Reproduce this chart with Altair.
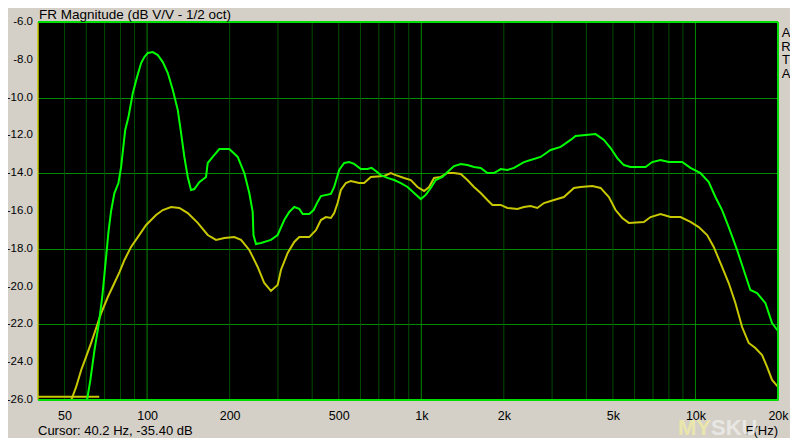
import altair as alt
import pandas as pd

# ---- data ----
green_f = [60.4, 62.1, 64.3, 66.7, 68.6, 70.3, 72.3, 73.9, 76.0, 78.6, 80.4, 83.2, 85.5, 88.7, 91.9, 95.1, 97.7,
           100.6, 104.9, 109.4, 114.1, 119, 124.1, 129.4, 133.0, 136.7, 140.7, 144.6, 148.7, 155.0, 164.0, 166.4,
           173.5, 183.4, 199.5, 214, 226.2, 235.9, 242.7, 244.3, 249.5, 260.2, 282.9, 299.3, 316.4, 330, 344.1,
           358.9, 369.3, 390.3, 404.9, 418.7, 430.5, 468.1, 481.2, 501.8, 523.4, 545.8, 569.1, 602, 636.8, 658.6,
           682.7, 711.9, 752.9, 796, 842.1, 891, 941.5, 995.9, 1038.5, 1083, 1129, 1195, 1246, 1317, 1393, 1473,
           1557, 1647, 1742, 1842, 1948, 2061, 2178, 2368, 2504, 2724, 2963, 3223, 3504, 3654, 3975, 4323, 4636,
           4903, 5185, 5481, 5797, 6574, 6954, 7456, 7994, 8945, 9590, 10428, 11178, 11824, 12506, 13221, 14184,
           14998, 15858, 16773, 17989, 19024, 20000]
green_db = [-26.0, -24.94, -23.35, -21.93, -20.55, -18.96, -17.11, -16.0, -15.05, -14.52, -13.67, -11.71, -11.03,
            -9.76, -8.91, -8.17, -7.85, -7.64, -7.59, -7.75, -8.12, -8.70, -9.60, -10.66, -11.87, -13.14, -14.20,
            -14.89, -14.84, -14.47, -14.20, -13.46, -13.14, -12.72, -12.72, -13.14, -13.99, -15.05, -16.05, -17.27,
            -17.75, -17.69, -17.53, -17.27, -16.48, -16.05, -15.79, -15.89, -16.16, -16.16, -15.95, -15.52, -15.21,
            -15.10, -14.73, -13.83, -13.46, -13.41, -13.51, -13.78, -13.78, -13.72, -13.88, -14.10, -14.25, -14.36,
            -14.52, -14.73, -15.05, -15.37, -15.15, -14.78, -14.36, -14.20, -13.94, -13.62, -13.51, -13.57, -13.67,
            -13.72, -13.99, -13.99, -13.78, -13.83, -13.72, -13.41, -13.30, -13.14, -12.77, -12.61, -12.24, -12.03,
            -11.98, -11.93, -12.24, -12.67, -13.20, -13.57, -13.67, -13.67, -13.41, -13.30, -13.41, -13.41, -13.72,
            -13.99, -14.47, -15.26, -15.95, -16.85, -18.06, -19.12, -20.18, -20.34, -20.87, -21.93, -22.35]

yellow_f = [52.9, 55.1, 57.5, 59.9, 62.5, 65.2, 68.0, 71.9, 76.0, 79.3, 82.7, 87.4, 92.5, 99.2, 107.8, 114.1, 122.3,
            131.1, 140.7, 153.0, 166.4, 178.4, 191.2, 208, 220, 235.9, 253.1, 267.5, 282.9, 299.3, 307.7, 325.6,
            344.1, 358.9, 390.3, 412.8, 430.5, 448.9, 468.1, 481.2, 495.2, 509.1, 530.8, 553.6, 593.6, 618.9, 654.6,
            731.9, 774.3, 807.4, 865.7, 915.6, 968.5, 1023.8, 1067.6, 1113.4, 1177.6, 1245.6, 1317, 1393, 1473, 1557,
            1647, 1742, 1817, 1948, 2061, 2241, 2368, 2504, 2650, 2802, 3046, 3313, 3603, 3811, 4205, 4508, 4833,
            5112, 5407, 5715, 6482, 6857, 7456, 8110, 8820, 9590, 10280, 11030, 11660, 12330, 13221, 13983, 14793,
            15638, 16539, 17498, 18248, 19024, 20000]
yellow_db = [-26.0, -25.31, -24.41, -23.72, -22.98, -22.19, -21.40, -20.55, -19.81, -19.23, -18.59, -17.90, -17.38,
             -16.74, -16.21, -15.95, -15.79, -15.84, -16.11, -16.63, -17.27, -17.53, -17.43, -17.38, -17.53, -18.06,
             -18.96, -19.81, -20.23, -19.92, -19.12, -18.22, -17.64, -17.38, -17.38, -17.01, -16.48, -16.32, -16.37,
             -16.11, -15.58, -14.89, -14.52, -14.41, -14.52, -14.52, -14.20, -14.15, -13.99, -14.10, -14.25, -14.36,
             -14.73, -14.94, -14.73, -14.25, -14.20, -13.99, -13.99, -14.04, -14.36, -14.73, -15.05, -15.42, -15.68,
             -15.68, -15.84, -15.89, -15.79, -15.74, -15.84, -15.58, -15.42, -15.26, -14.78, -14.73, -14.68, -14.78,
             -15.26, -15.95, -16.37, -16.63, -16.58, -16.32, -16.16, -16.32, -16.32, -16.58, -16.85, -17.27, -17.90,
             -18.75, -19.81, -20.87, -22.14, -22.98, -23.25, -23.62, -24.25, -24.94, -25.31]

# yellow floor segment at the bottom left
floor_f = [40, 66.9]
floor_db = [-25.83, -25.83]

x_ticks = [50, 100, 200, 500, 1000, 2000, 5000, 10000, 20000]
y_ticks = [-26, -24, -22, -20, -18, -16, -14, -12, -10, -8, -6]
minor_grid = [50, 60, 70, 80, 90, 200, 300, 400, 500, 600, 700, 800, 900,
              2000, 3000, 4000, 5000, 6000, 7000, 8000, 9000]
major_grid = [100, 1000, 10000]
f_min, f_max = 40, 20000
db_min, db_max = -26, -6

BG = "#d4d0c8"
GREEN = "#00ff00"
YELLOW = "#c8c800"
FONT = "Liberation Sans"

df = pd.concat([
    pd.DataFrame({"f": yellow_f, "db": yellow_db, "s": "Y"}),
    pd.DataFrame({"f": floor_f, "db": floor_db, "s": "Y0"}),
    pd.DataFrame({"f": green_f, "db": green_db, "s": "G"}),
], ignore_index=True)
df["o"] = range(len(df))

xs = alt.Scale(type="log", domain=[f_min, f_max], nice=False)
ys = alt.Scale(domain=[db_min, db_max], nice=False, zero=False)

x_axis = alt.Axis(values=x_ticks, grid=False, ticks=False, domain=False, title=None,
                  labelExpr="datum.value >= 1000 ? (datum.value/1000) + 'k' : datum.value + ''",
                  labelFont=FONT, labelFontSize=12.5, labelColor="#000000", labelPadding=9,
                  labelOverlap=False, labelBound=False, labelFlush=False)
y_axis = alt.Axis(values=y_ticks, grid=True, gridColor="#008a00", gridWidth=1,
                  labels=False, ticks=False, domain=False, title=None)

axes = alt.Chart(pd.DataFrame({"f": [f_min], "db": [db_min]})).mark_point(opacity=0).encode(
    x=alt.X("f:Q", scale=xs, axis=x_axis),
    y=alt.Y("db:Q", scale=ys, axis=y_axis),
)

ylab_df = pd.DataFrame({"db": y_ticks, "label": [f"{v:.1f}" for v in y_ticks]})
ylabels = alt.Chart(ylab_df).mark_text(align="right", baseline="middle", font=FONT, fontSize=11.5,
                                       color="#000000", dx=-5).encode(
    x=alt.value(0), y=alt.Y("db:Q", scale=ys), text="label:N")

minor = alt.Chart(pd.DataFrame({"f": minor_grid})).mark_rule(color="#004c00", strokeWidth=1).encode(
    x=alt.X("f:Q", scale=xs))
major = alt.Chart(pd.DataFrame({"f": major_grid})).mark_rule(color="#008a00", strokeWidth=1).encode(
    x=alt.X("f:Q", scale=xs))

lines = alt.Chart(df).mark_line(strokeWidth=2, interpolate="linear").encode(
    x=alt.X("f:Q", scale=xs),
    y=alt.Y("db:Q", scale=ys),
    color=alt.Color("s:N", scale=alt.Scale(domain=["Y", "Y0", "G"], range=[YELLOW, YELLOW, GREEN]), legend=None),
    detail="s:N",
    order="o:Q",
)

# border
one = pd.DataFrame({"a": [0]})
BORDER = "#00dd00"
border_top = alt.Chart(one).mark_rule(color=BORDER, strokeWidth=2).encode(
    x=alt.datum(f_min, scale=xs), x2=alt.datum(f_max), y=alt.datum(db_max, scale=ys))
border_bottom = alt.Chart(one).mark_rule(color=BORDER, strokeWidth=2).encode(
    x=alt.datum(f_min, scale=xs), x2=alt.datum(f_max), y=alt.datum(db_min, scale=ys))
border_right = alt.Chart(one).mark_rule(color=BORDER, strokeWidth=2).encode(
    x=alt.datum(f_max, scale=xs), y=alt.datum(db_min, scale=ys), y2=alt.datum(db_max))
border_left = alt.Chart(one).mark_rule(color=YELLOW, strokeWidth=1.5).encode(
    x=alt.datum(f_min, scale=xs), y=alt.datum(db_min, scale=ys), y2=alt.datum(db_max))

title_t = alt.Chart(one).mark_text(text="FR Magnitude (dB V/V - 1/2 oct)", align="left", baseline="alphabetic",
                                   font=FONT, fontSize=13.5, color="#000000").encode(
    x=alt.value(1), y=alt.value(-3.5))
arta_t = alt.Chart(one).mark_text(text="A\nR\nT\nA", lineBreak="\n", lineHeight=13.5, align="center",
                                  baseline="top", font=FONT, fontSize=13, color="#000000").encode(
    x=alt.value(748), y=alt.value(5))
cursor_t = alt.Chart(one).mark_text(text="Cursor: 40.2 Hz, -35.40 dB", align="left", baseline="alphabetic",
                                    font=FONT, fontSize=13, color="#000000").encode(
    x=alt.value(0), y=alt.value(413))
fhz_t = alt.Chart(one).mark_text(text="F(Hz)", align="right", baseline="alphabetic",
                                 font=FONT, fontSize=13, color="#000000").encode(
    x=alt.value(740), y=alt.value(413))
wm1 = alt.Chart(one).mark_text(text="MY", align="left", baseline="alphabetic", font=FONT, fontSize=22,
                               fontWeight="bold", color="#f4f0a0", opacity=0.7).encode(
    x=alt.value(640), y=alt.value(413))
wm2 = alt.Chart(one).mark_text(text="SKU", align="left", baseline="alphabetic", font=FONT, fontSize=22,
                               fontWeight="bold", color="#f2f2f0", opacity=0.7).encode(
    x=alt.value(673), y=alt.value(413))

chart = alt.layer(
    axes, minor, major, lines, border_left, border_top, border_bottom, border_right, ylabels,
    title_t, arta_t, cursor_t, fhz_t, wm1, wm2
).properties(
    width=740, height=378,
    autosize=alt.AutoSizeParams(type="none"),
    padding={"left": 30, "top": 14, "right": 12, "bottom": 38},
    background=BG,
).configure_view(
    fill="#000000", stroke=None
)

chart.save("out.html", embed_options={"renderer": "svg", "actions": False})
